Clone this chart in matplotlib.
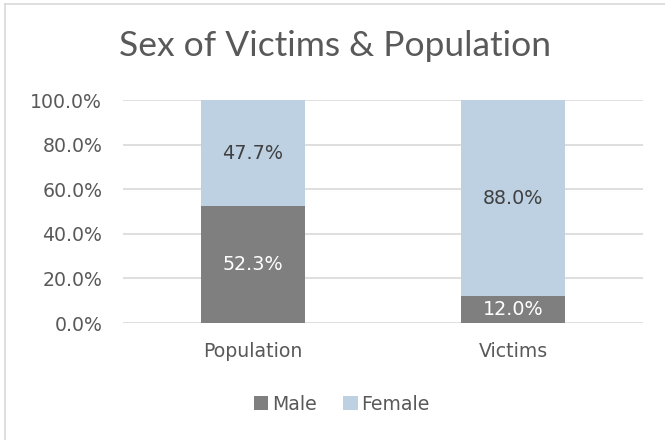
import matplotlib
matplotlib.use("Agg")
import matplotlib.pyplot as plt
from matplotlib.lines import Line2D

categories = ["Population", "Victims"]
male = [52.3, 12.0]
female = [47.7, 88.0]
yticks = [0, 20, 40, 60, 80, 100]
ytick_labels = ["0.0%", "20.0%", "40.0%", "60.0%", "80.0%", "100.0%"]
title = "Sex of Victims & Population"

plt.rcParams['font.family'] = ['DejaVu Sans']

W, H = 665, 440
fig = plt.figure(figsize=(W/100, H/100), dpi=100)
fig.patch.set_facecolor("white")
# chart border (left and top visible; image cropped on right/bottom)
fig.lines.append(Line2D([5/W, 5/W], [0, 1-4/H], transform=fig.transFigure, color="#D9D9D9", lw=1.2))
fig.lines.append(Line2D([5/W, 1], [1-4/H, 1-4/H], transform=fig.transFigure, color="#D9D9D9", lw=1.2))

ax = fig.add_axes([123/W, 1-323/H, (643-123)/W, (323-100)/H])
male_c = "#7F7F7F"
female_c = "#BDD1E3"
x = list(range(len(categories)))
ax.bar(x, male, width=0.4, color=male_c, label="Male", zorder=3)
ax.bar(x, female, width=0.4, bottom=male, color=female_c, label="Female", zorder=3)

for i in x:
    ax.text(i, male[i]/2, f"{male[i]:.1f}%", ha="center", va="center", color="white", fontsize=13.8, zorder=4)
    ax.text(i, male[i] + female[i]/2, f"{female[i]:.1f}%", ha="center", va="center", color="#404040", fontsize=13.8, zorder=4)

ax.set_xlim(-0.5, 1.5)
ax.set_ylim(0, 100)
ax.set_yticks(yticks)
ax.set_yticklabels(ytick_labels)
ax.set_xticks(x)
ax.set_xticklabels(categories)
ax.tick_params(axis="both", length=0, labelsize=13.6, labelcolor="#595959")
ax.tick_params(axis="y", pad=15)
ax.tick_params(axis="x", pad=14)
ax.grid(axis="y", color="#D9D9D9", linewidth=1.2, zorder=0)
for s in ax.spines.values():
    s.set_visible(False)

fig.text(335/W, 1-46/H, title, ha="center", va="center", fontsize=25.5, color="#595959",
         family=["Lato", "DejaVu Sans"])

leg = fig.legend(loc="center", bbox_to_anchor=(342/W, 1-404/H), ncol=2, frameon=False,
                 fontsize=13.6, handlelength=0.75, handleheight=0.75, handletextpad=0.2,
                 columnspacing=1.4, labelcolor="#595959")

fig.savefig("out.png", dpi=100)
